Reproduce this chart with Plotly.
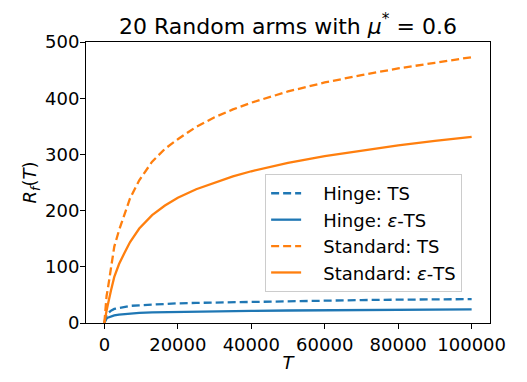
import plotly.graph_objects as go

# Horizon values (T) at which the curves were read
T = [0, 300, 600, 900, 1400, 1800, 2700, 4000, 5500, 7000, 9500, 13000,
     16500, 20000, 25000, 30000, 35000, 40000, 50000, 60000, 70000, 80000,
     90000, 100000]

hinge_ts = [0, 10, 14, 17, 20, 22, 25, 27, 29, 30.5, 31.5, 33,
            34, 35, 35.8, 36.5, 37, 37.8, 39, 40, 40.8, 41.5, 42, 42.5]
hinge_eps_ts = [0, 6, 8, 9.5, 11, 12, 13.5, 15, 16, 17, 18, 18.8,
                19.3, 19.8, 20.3, 20.8, 21.2, 21.5, 22.2, 22.7, 23.2, 23.6, 24, 24.3]
standard_ts = [0, 35, 48, 59, 80, 100, 136, 165, 195, 222, 254, 287,
               310, 327, 349, 366, 380, 392, 412, 428, 441, 453, 463, 473]
standard_eps_ts = [0, 14, 22, 31, 48, 58, 82, 105, 125, 144, 168, 192,
                   209, 223, 238, 250, 261, 270, 285, 297, 307, 316, 324, 331]

x_tickvals = [0, 20000, 40000, 60000, 80000, 100000]
x_ticktext = ["0", "20000", "40000", "60000", "80000", "100000"]
y_tickvals = [0, 100, 200, 300, 400, 500]
y_ticktext = ["0", "100", "200", "300", "400", "500"]

BLUE = "#1f77b4"
ORANGE = "#ff7f0e"
DASH = "8px,4px"
LW = 2.3
PAD = "&nbsp;&nbsp;&nbsp;"

fig = go.Figure()
fig.add_trace(go.Scatter(x=T, y=hinge_ts, mode="lines", name=PAD + "Hinge: TS",
                         legendgroup="a",
                         line=dict(color=BLUE, width=LW, dash=DASH)))
fig.add_trace(go.Scatter(x=T, y=hinge_eps_ts, mode="lines", name=PAD + "Hinge: <i>ε</i>-TS",
                         legendgroup="b",
                         line=dict(color=BLUE, width=LW)))
fig.add_trace(go.Scatter(x=T, y=standard_ts, mode="lines", name=PAD + "Standard: TS",
                         legendgroup="c",
                         line=dict(color=ORANGE, width=LW, dash=DASH)))
fig.add_trace(go.Scatter(x=T, y=standard_eps_ts, mode="lines", name=PAD + "Standard: <i>ε</i>-TS",
                         legendgroup="d",
                         line=dict(color=ORANGE, width=LW)))

FONT = "DejaVu Sans"
axis_common = dict(
    showgrid=False, zeroline=False, showline=True, linecolor="black", linewidth=1,
    mirror=True, ticks="outside", ticklen=5, tickwidth=1, tickcolor="black",
    tickfont=dict(family=FONT, size=18, color="black"), automargin=False,
)

fig.update_layout(
    width=527, height=382,
    margin=dict(l=78, r=45, t=34, b=67),
    paper_bgcolor="white", plot_bgcolor="white",
    font=dict(family=FONT, color="black"),
    title=dict(text="20 Random arms with <i>μ</i><sup>*</sup> = 0.6",
               x=0.5, xref="paper", xanchor="center",
               y=0.953, yref="container", yanchor="middle",
               font=dict(family=FONT, size=22, color="black"), automargin=False),
    xaxis=dict(range=[-5000, 105000], tickmode="array", tickvals=x_tickvals,
               ticktext=x_ticktext,
               title=dict(text="<i>T</i>", font=dict(family=FONT, size=18), standoff=2),
               **axis_common),
    yaxis=dict(range=[0, 500], tickmode="array", tickvals=y_tickvals,
               ticktext=y_ticktext, ticklabelstandoff=-3,
               title=dict(text="<i>R</i><sub><i>f</i></sub>(<i>T</i>)",
                          font=dict(family=FONT, size=18), standoff=3),
               **axis_common),
    legend=dict(x=0.931, xanchor="right", y=0.53, yanchor="top",
                bgcolor="rgba(255,255,255,0.8)", bordercolor="#cccccc", borderwidth=1,
                font=dict(family=FONT, size=18, color="black"),
                tracegroupgap=0),
    showlegend=True,
)

fig.write_html("out.html")
